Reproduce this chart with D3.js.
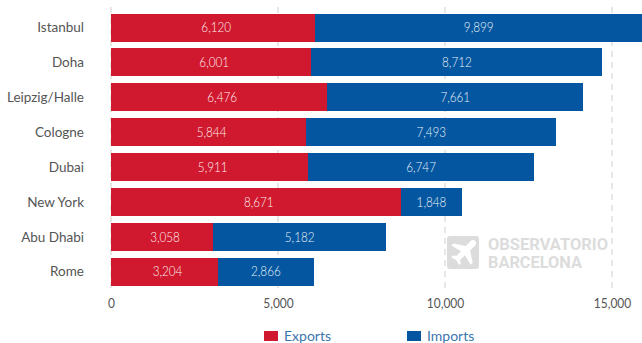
<!DOCTYPE html>
<html>
<head>
<meta charset="utf-8">
<script src="https://cdn.jsdelivr.net/npm/d3@7"></script>
<style>
  html, body { margin: 0; padding: 0; background: #fff; }
  svg { display: block; font-family: Lato, Roboto, sans-serif; }
</style>
</head>
<body>
<div id="chart"></div>
<script>
const airports = ["Istanbul", "Doha", "Leipzig/Halle", "Cologne", "Dubai", "New York", "Abu Dhabi", "Rome"];
const exportsTons = [6120, 6001, 6476, 5844, 5911, 8671, 3058, 3204];
const importsTons = [9899, 8712, 7661, 7493, 6747, 1848, 5182, 2866];
const xTicks = [0, 5000, 10000, 15000];
const seriesNames = ["Exports", "Imports"];
const seriesColors = ["#d0192e", "#03569f"];

const width = 642, height = 343;
const fmt = d3.format(",");

const svg = d3.select("#chart").append("svg")
  .attr("width", width).attr("height", height);

const x = d3.scaleLinear().domain([0, 15000]).range([111, 612]);
const y = d3.scaleBand().domain(airports).range([13.5, 285.8]).paddingInner(0.1977).paddingOuter(0);

// Narrows the glyphs of a text selection to approximate a condensed face
const condense = (sel, factor) => sel
  .attr("lengthAdjust", "spacingAndGlyphs")
  .attr("textLength", function () { return this.getComputedTextLength() * factor; });

// Dashed vertical gridlines behind the bars
svg.append("g").selectAll("line").data(xTicks).join("line")
  .attr("x1", d => x(d)).attr("x2", d => x(d))
  .attr("y1", 7).attr("y2", 289)
  .attr("stroke", "#e2dfdd").attr("stroke-width", 1.5)
  .attr("stroke-dasharray", "6 5");

// Watermark: rounded square with an airplane, then the wordmark
const mark = svg.append("g").attr("transform", "translate(447,236)");
mark.append("rect").attr("width", 32).attr("height", 33).attr("rx", 3).attr("fill", "#dcdcdc");
mark.append("path").attr("fill", "#fff")
  .attr("d", "M27.5 4.5c-1.2-.8-3-.3-4.2.9l-4.6 4.7L6.5 7.5 4.4 9.6l9.6 5.6-4.5 4.8-3.7-.5-1.7 1.7 5 2.9 2.9 5 1.7-1.7-.5-3.7 4.8-4.5 5.6 9.6 2.1-2.1-2.6-12.2 4.7-4.6c1.2-1.2 1.7-3.3.9-4.5z");
svg.append("g").selectAll("text").data(["OBSERVATORIO", "BARCELONA"]).join("text")
  .attr("x", 488).attr("y", (d, i) => 250 + i * 18)
  .attr("fill", "#dcdcdc").attr("font-size", 16).attr("font-weight", 700)
  .attr("font-family", "Roboto, sans-serif")
  .attr("textLength", (d, i) => i ? 94 : 120).attr("lengthAdjust", "spacingAndGlyphs")
  .text(d => d);

// Stacked bars
const rows = airports.map((name, i) => ({ name, exp: exportsTons[i], imp: importsTons[i] }));
const row = svg.append("g").selectAll("g").data(rows).join("g");

row.append("rect")
  .attr("x", x(0)).attr("y", d => y(d.name))
  .attr("width", d => x(d.exp) - x(0)).attr("height", y.bandwidth())
  .attr("fill", seriesColors[0]).attr("shape-rendering", "crispEdges");
row.append("rect")
  .attr("x", d => x(d.exp)).attr("y", d => y(d.name))
  .attr("width", d => x(d.exp + d.imp) - x(d.exp)).attr("height", y.bandwidth())
  .attr("fill", seriesColors[1]).attr("shape-rendering", "crispEdges");

// Value labels in each segment; import labels centre on the visible part of the bar
const labelY = d => y(d.name) + y.bandwidth() / 2 + 4.7;
row.append("text")
  .attr("x", d => x(d.exp / 2) + 3).attr("y", labelY)
  .attr("text-anchor", "middle").attr("fill", "#feeef0").attr("font-size", 13)
  .attr("font-weight", 300)
  .text(d => fmt(d.exp))
  .call(condense, 0.9);
row.append("text")
  .attr("x", d => (x(d.exp) + Math.min(x(d.exp + d.imp), width)) / 2).attr("y", labelY)
  .attr("text-anchor", "middle").attr("fill", "#e8f1f9").attr("font-size", 13)
  .attr("font-weight", 300)
  .text(d => fmt(d.imp))
  .call(condense, 0.9);

// Category labels
row.append("text")
  .attr("x", 84).attr("y", labelY)
  .attr("text-anchor", "end").attr("fill", "#555").attr("font-size", 13.5)
  .text(d => d.name);

// Value axis labels
const axis = svg.append("g").attr("transform", "translate(0,290)")
  .call(d3.axisBottom(x).tickValues(xTicks).tickFormat(fmt).tickSize(0).tickPadding(9));
axis.select(".domain").remove();
axis.selectAll("text").attr("fill", "#555").attr("font-size", 13)
  .attr("font-family", "Lato, Roboto, sans-serif")
  .call(condense, 0.92);

// Legend
const legendX = [264, 407];
const legend = svg.append("g").selectAll("g").data(seriesNames).join("g")
  .attr("transform", (d, i) => `translate(${legendX[i]},331)`);
legend.append("rect").attr("width", 14).attr("height", 10)
  .attr("fill", (d, i) => seriesColors[i]);
legend.append("text").attr("x", 20).attr("y", 9.5)
  .attr("fill", "#3b76b0").attr("font-size", 14)
  .text(d => d);
</script>
</body>
</html>
